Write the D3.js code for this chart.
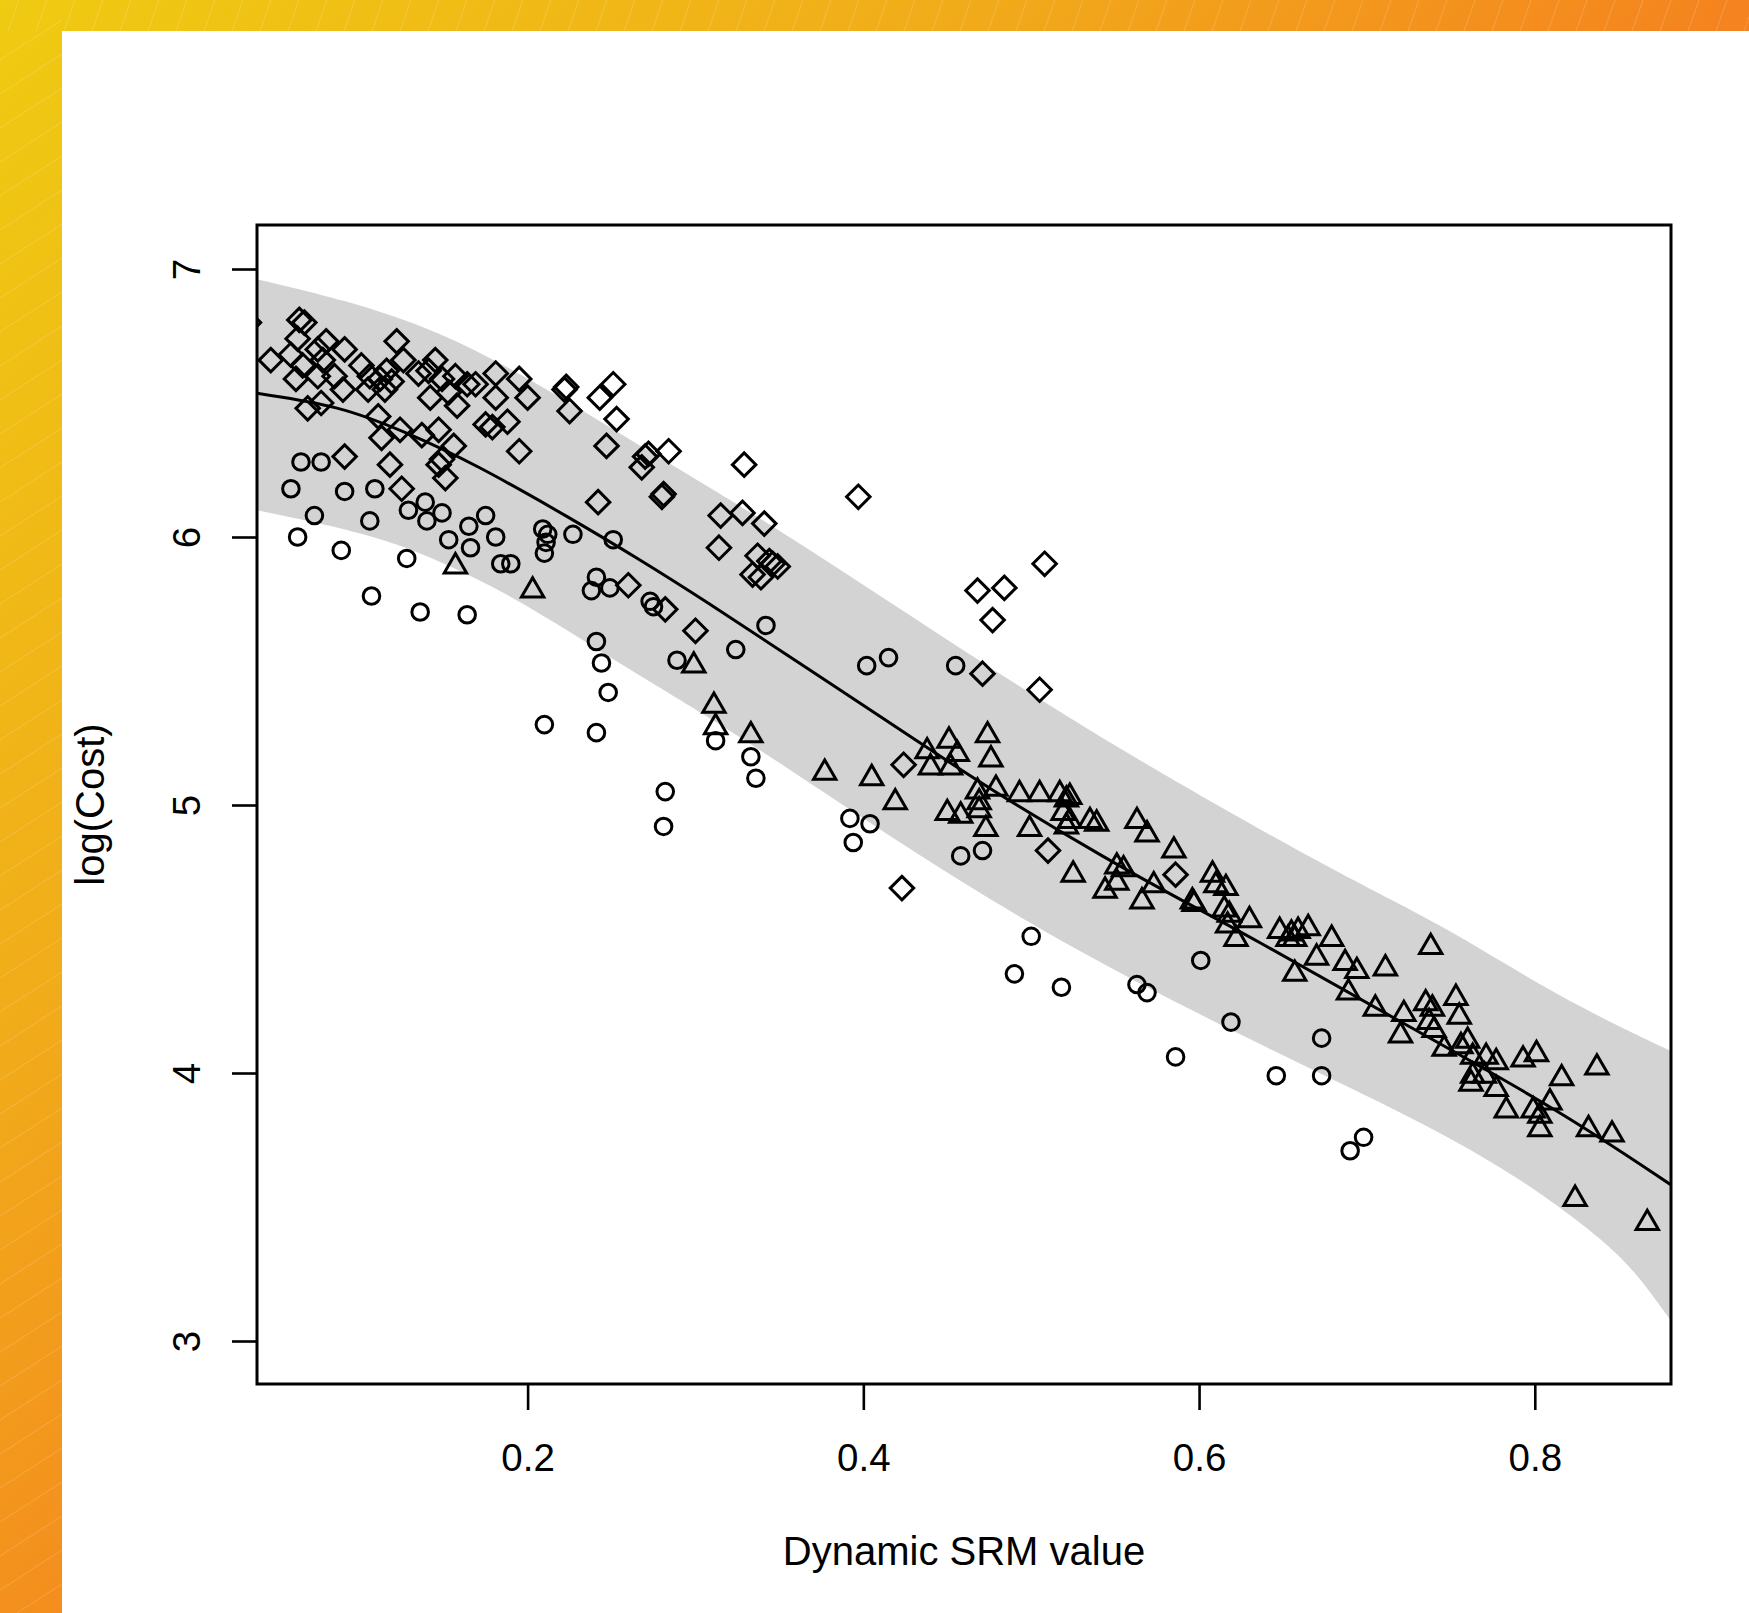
<!DOCTYPE html>
<html>
<head>
<meta charset="utf-8">
<script src="https://cdn.jsdelivr.net/npm/d3@7"></script>
<style>
  body { margin: 0; background: #fff; }
  svg { display: block; }
</style>
</head>
<body>
<div id="chart"></div>
<script>
// values
const xTicks = [0.2, 0.4, 0.6, 0.8];
const yTicks = [3, 4, 5, 6, 7];
const xLabel = "Dynamic SRM value";
const yLabel = "log(Cost)";

const diamondX = [0.034, 0.064, 0.067, 0.063, 0.047, 0.059, 0.066, 0.062, 0.075, 0.080, 0.078, 0.091, 0.075, 0.085, 0.090,
  0.101, 0.106, 0.105, 0.115, 0.112, 0.116, 0.122, 0.126, 0.119, 0.135, 0.145, 0.141, 0.149, 0.142, 0.153,
  0.157, 0.158, 0.164, 0.169, 0.181, 0.181, 0.195, 0.200, 0.175, 0.179, 0.188, 0.195, 0.069, 0.077, 0.111,
  0.113, 0.124, 0.137, 0.147, 0.156, 0.149, 0.151, 0.147, 0.091, 0.118, 0.125, 0.222, 0.223, 0.225, 0.243,
  0.251, 0.253, 0.247, 0.242, 0.270, 0.272, 0.268, 0.284, 0.281, 0.280, 0.315, 0.314, 0.329, 0.260, 0.328,
  0.341, 0.337, 0.344, 0.349, 0.334, 0.339, 0.346, 0.282, 0.300, 0.397, 0.508, 0.468, 0.484, 0.477, 0.471,
  0.505, 0.424, 0.510, 0.423, 0.586];
const diamondY = [6.80, 6.81, 6.80, 6.74, 6.66, 6.68, 6.64, 6.59, 6.70, 6.73, 6.66, 6.70, 6.60, 6.60, 6.55,
  6.64, 6.60, 6.55, 6.55, 6.59, 6.62, 6.73, 6.66, 6.58, 6.61, 6.66, 6.62, 6.59, 6.52, 6.54,
  6.60, 6.49, 6.57, 6.57, 6.61, 6.52, 6.59, 6.52, 6.42, 6.41, 6.43, 6.32, 6.48, 6.50, 6.45,
  6.37, 6.40, 6.38, 6.40, 6.34, 6.29, 6.22, 6.27, 6.30, 6.27, 6.18, 6.55, 6.56, 6.47, 6.52,
  6.57, 6.44, 6.34, 6.13, 6.30, 6.31, 6.26, 6.32, 6.16, 6.15, 6.08, 5.96, 6.27, 5.82, 6.09,
  6.05, 5.93, 5.91, 5.89, 5.86, 5.85, 5.90, 5.73, 5.65, 6.15, 5.90, 5.80, 5.81, 5.69, 5.49,
  5.43, 5.15, 4.83, 4.69, 4.74];

const circleX = [0.065, 0.077, 0.059, 0.091, 0.109, 0.073, 0.063, 0.089, 0.106, 0.128, 0.129, 0.139, 0.140, 0.149,
  0.165, 0.175, 0.153, 0.166, 0.181, 0.184, 0.190, 0.209, 0.212, 0.211, 0.210, 0.227, 0.251, 0.241,
  0.238, 0.249, 0.107, 0.136, 0.164, 0.273, 0.275, 0.324, 0.289, 0.241, 0.244, 0.248, 0.210, 0.241,
  0.282, 0.281, 0.312, 0.342, 0.402, 0.415, 0.455, 0.333, 0.336, 0.392, 0.404, 0.394, 0.458, 0.471,
  0.500, 0.490, 0.518, 0.563, 0.569, 0.601, 0.619, 0.586, 0.646, 0.673, 0.673, 0.698, 0.690];
const circleY = [6.28, 6.28, 6.18, 6.17, 6.18, 6.08, 6.00, 5.95, 6.06, 5.92, 6.10, 6.13, 6.06, 6.09,
  6.04, 6.08, 5.99, 5.96, 6.00, 5.90, 5.90, 6.03, 6.01, 5.98, 5.94, 6.01, 5.99, 5.85,
  5.80, 5.81, 5.78, 5.72, 5.71, 5.76, 5.74, 5.58, 5.54, 5.61, 5.53, 5.42, 5.30, 5.27,
  5.05, 4.92, 5.24, 5.67, 5.52, 5.55, 5.52, 5.18, 5.10, 4.95, 4.93, 4.86, 4.81, 4.83,
  4.51, 4.37, 4.32, 4.33, 4.30, 4.42, 4.19, 4.06, 3.99, 4.13, 3.99, 3.76, 3.71];

const triangleX = [0.157, 0.203, 0.299, 0.311, 0.312, 0.333, 0.377, 0.405, 0.419, 0.438, 0.451, 0.456, 0.440, 0.452,
  0.474, 0.476, 0.450, 0.458, 0.468, 0.469, 0.469, 0.473, 0.479, 0.493, 0.499, 0.505, 0.517, 0.521,
  0.519, 0.523, 0.521, 0.523, 0.535, 0.539, 0.525, 0.563, 0.569, 0.585, 0.551, 0.555, 0.544, 0.551,
  0.573, 0.566, 0.596, 0.597, 0.608, 0.610, 0.616, 0.615, 0.618, 0.617, 0.622, 0.630, 0.648, 0.655,
  0.659, 0.665, 0.653, 0.657, 0.657, 0.679, 0.670, 0.687, 0.694, 0.711, 0.738, 0.689, 0.705, 0.722,
  0.720, 0.735, 0.739, 0.737, 0.740, 0.753, 0.755, 0.760, 0.756, 0.763, 0.746, 0.771, 0.777, 0.763,
  0.770, 0.762, 0.777, 0.783, 0.793, 0.801, 0.799, 0.803, 0.809, 0.803, 0.816, 0.832, 0.846, 0.837,
  0.824, 0.867];
const triangleY = [5.89, 5.80, 5.52, 5.37, 5.29, 5.26, 5.12, 5.10, 5.01, 5.20, 5.24, 5.19, 5.14, 5.14,
  5.26, 5.17, 4.97, 4.96, 5.05, 5.01, 4.98, 4.91, 5.06, 5.04, 4.91, 5.04, 5.04, 5.02,
  4.97, 4.94, 4.92, 5.03, 4.94, 4.93, 4.74, 4.94, 4.89, 4.83, 4.77, 4.76, 4.68, 4.71,
  4.70, 4.64, 4.64, 4.63, 4.74, 4.70, 4.69, 4.61, 4.59, 4.55, 4.50, 4.57, 4.53, 4.52,
  4.53, 4.54, 4.50, 4.50, 4.37, 4.50, 4.43, 4.41, 4.38, 4.39, 4.47, 4.30, 4.24, 4.22,
  4.14, 4.26, 4.24, 4.19, 4.16, 4.28, 4.21, 4.12, 4.10, 4.06, 4.09, 4.06, 4.04, 3.99,
  3.99, 3.96, 3.94, 3.86, 4.05, 4.07, 3.86, 3.84, 3.89, 3.79, 3.98, 3.79, 3.77, 4.02,
  3.53, 3.44];

// fitted curve and its band
const fitX = [0.0388, 0.088, 0.128, 0.168, 0.227, 0.267, 0.305, 0.362, 0.422, 0.475, 0.547, 0.591, 0.630, 0.723, 0.815, 0.8817];
const fitY = [6.536, 6.49, 6.39, 6.275, 6.065, 5.915, 5.765, 5.53, 5.28, 5.06, 4.79, 4.64, 4.51, 4.18, 3.86, 3.58];
const upperX = [0.0388, 0.088, 0.148, 0.207, 0.267, 0.326, 0.386, 0.4416, 0.501, 0.5708, 0.6868, 0.746, 0.8145, 0.8817];
const upperY = [6.962, 6.89, 6.77, 6.57, 6.34, 6.12, 5.88, 5.65, 5.41, 5.14, 4.73, 4.55, 4.28, 4.08];
const lowerX = [0.0388, 0.108, 0.148, 0.1875, 0.227, 0.267, 0.3264, 0.4278, 0.501, 0.5708, 0.6547, 0.7688, 0.837, 0.860, 0.8817];
const lowerY = [6.10, 6.01, 5.91, 5.79, 5.64, 5.48, 5.26, 4.83, 4.55, 4.31, 4.05, 3.71, 3.40, 3.26, 3.07];

const width = 1749, height = 1613;
const plot = { left: 257, right: 1671, top: 225, bottom: 1384 };
const font = '"Liberation Sans", Arial, sans-serif';

const svg = d3.select("#chart")
  .append("svg")
  .attr("width", width)
  .attr("height", height);

/* BACKGROUND */
const defs = svg.append("defs");
const grad = defs.append("linearGradient")
  .attr("id", "bg")
  .attr("gradientUnits", "userSpaceOnUse")
  .attr("x1", 0).attr("y1", 0)
  .attr("x2", 945).attr("y2", 871);
grad.append("stop").attr("offset", 0).attr("stop-color", "#efcb12");
grad.append("stop").attr("offset", 0.55).attr("stop-color", "#f1ac1a");
grad.append("stop").attr("offset", 1).attr("stop-color", "#f5831f");

svg.append("rect")
  .attr("width", width)
  .attr("height", height)
  .attr("fill", "url(#bg)");

// faint streaks in the orange border
const streaks = svg.append("g")
  .attr("stroke", "#fff")
  .attr("stroke-opacity", 0.18)
  .attr("stroke-width", 1);
streaks.selectAll(".top")
  .data(d3.range(-20, width, 28))
  .join("line")
  .attr("x1", d => d).attr("y1", 31)
  .attr("x2", d => d + 11).attr("y2", 0);
streaks.selectAll(".left")
  .data(d3.range(60, height + 40, 34))
  .join("line")
  .attr("x1", 0).attr("y1", d => d)
  .attr("x2", 62).attr("y2", d => d - 40);

svg.append("rect")
  .attr("x", 62).attr("y", 31)
  .attr("width", width - 62)
  .attr("height", height - 31)
  .attr("fill", "#fff");

/* SCALES */
const x = d3.scaleLinear().domain([0.2, 0.8]).range([527.6, 1534.8]);
const y = d3.scaleLinear().domain([3, 7]).range([1341, 269]);

defs.append("clipPath")
  .attr("id", "plotClip")
  .append("rect")
  .attr("x", plot.left).attr("y", plot.top)
  .attr("width", plot.right - plot.left)
  .attr("height", plot.bottom - plot.top);

const inner = svg.append("g").attr("clip-path", "url(#plotClip)");

// confidence band (B-spline smooths the hand-read edges)
const smooth = d3.line()
  .x(d => x(d[0]))
  .y(d => y(d[1]))
  .curve(d3.curveBasis);
const upperPts = d3.zip(upperX, upperY);
const lowerPts = d3.zip(lowerX, lowerY).reverse();
inner.append("path")
  .attr("d", smooth(upperPts) + "L" + smooth(lowerPts).slice(1) + "Z")
  .attr("fill", "#d3d3d3");

// points
const markR = 8.3;
const circleType = {
  draw(ctx, size) {
    const r = Math.sqrt(size);
    ctx.moveTo(r, 0);
    ctx.arc(0, 0, r, 0, 2 * Math.PI);
  }
};
const diamondType = {
  draw(ctx, size) {
    const h = Math.sqrt(size) * Math.SQRT2;
    ctx.moveTo(0, -h);
    ctx.lineTo(h, 0);
    ctx.lineTo(0, h);
    ctx.lineTo(-h, 0);
    ctx.closePath();
  }
};
const triangleType = {
  draw(ctx, size) {
    const r = Math.sqrt(size);
    ctx.moveTo(0, -1.5551 * r);
    ctx.lineTo(1.3468 * r, 0.7776 * r);
    ctx.lineTo(-1.3468 * r, 0.7776 * r);
    ctx.closePath();
  }
};

const groups = [
  { xs: circleX, ys: circleY, type: circleType },
  { xs: diamondX, ys: diamondY, type: diamondType },
  { xs: triangleX, ys: triangleY, type: triangleType }
];

groups.forEach(g => {
  const sym = d3.symbol().type(g.type).size(markR * markR);
  inner.append("g")
    .selectAll("path")
    .data(d3.zip(g.xs, g.ys))
    .join("path")
    .attr("transform", d => `translate(${x(d[0])},${y(d[1])})`)
    .attr("d", sym)
    .attr("fill", "none")
    .attr("stroke", "#000")
    .attr("stroke-width", 3);
});

// fitted line
inner.append("path")
  .datum(d3.zip(fitX, fitY))
  .attr("d", smooth)
  .attr("fill", "none")
  .attr("stroke", "#000")
  .attr("stroke-width", 3);

/* AXES */
const xAxis = svg.append("g")
  .attr("transform", `translate(0,${plot.bottom})`)
  .call(d3.axisBottom(x)
    .tickValues(xTicks)
    .tickSize(26)
    .tickPadding(34)
    .tickFormat(d3.format(".1f")))
  .call(g => g.select(".domain").remove());
xAxis.attr("font-size", null).attr("font-family", null);
xAxis.selectAll(".tick line").attr("stroke", "#000").attr("stroke-width", 2.6);
xAxis.selectAll(".tick text")
  .style("font", `38.5px ${font}`)
  .attr("fill", "#000");

const yAxis = svg.append("g")
  .attr("transform", `translate(${plot.left},0)`)
  .call(d3.axisLeft(y)
    .tickValues(yTicks)
    .tickSize(25)
    .tickFormat(d3.format("d")))
  .call(g => g.select(".domain").remove());
yAxis.attr("font-size", null).attr("font-family", null);
yAxis.selectAll(".tick line").attr("stroke", "#000").attr("stroke-width", 2.6);
yAxis.selectAll(".tick text")
  .attr("x", 0)
  .attr("dy", 0)
  .attr("text-anchor", "middle")
  .attr("transform", "translate(-57,0) rotate(-90)")
  .style("font", `38.5px ${font}`)
  .attr("fill", "#000");

// axis titles
svg.append("text")
  .attr("x", (plot.left + plot.right) / 2)
  .attr("y", 1565)
  .attr("text-anchor", "middle")
  .style("font", `40px ${font}`)
  .text(xLabel);

svg.append("text")
  .attr("transform", `translate(104,${(plot.top + plot.bottom) / 2}) rotate(-90)`)
  .attr("text-anchor", "middle")
  .style("font", `40px ${font}`)
  .text(yLabel);

// frame
svg.append("rect")
  .attr("x", plot.left).attr("y", plot.top)
  .attr("width", plot.right - plot.left)
  .attr("height", plot.bottom - plot.top)
  .attr("fill", "none")
  .attr("stroke", "#000")
  .attr("stroke-width", 3);
</script>
</body>
</html>
